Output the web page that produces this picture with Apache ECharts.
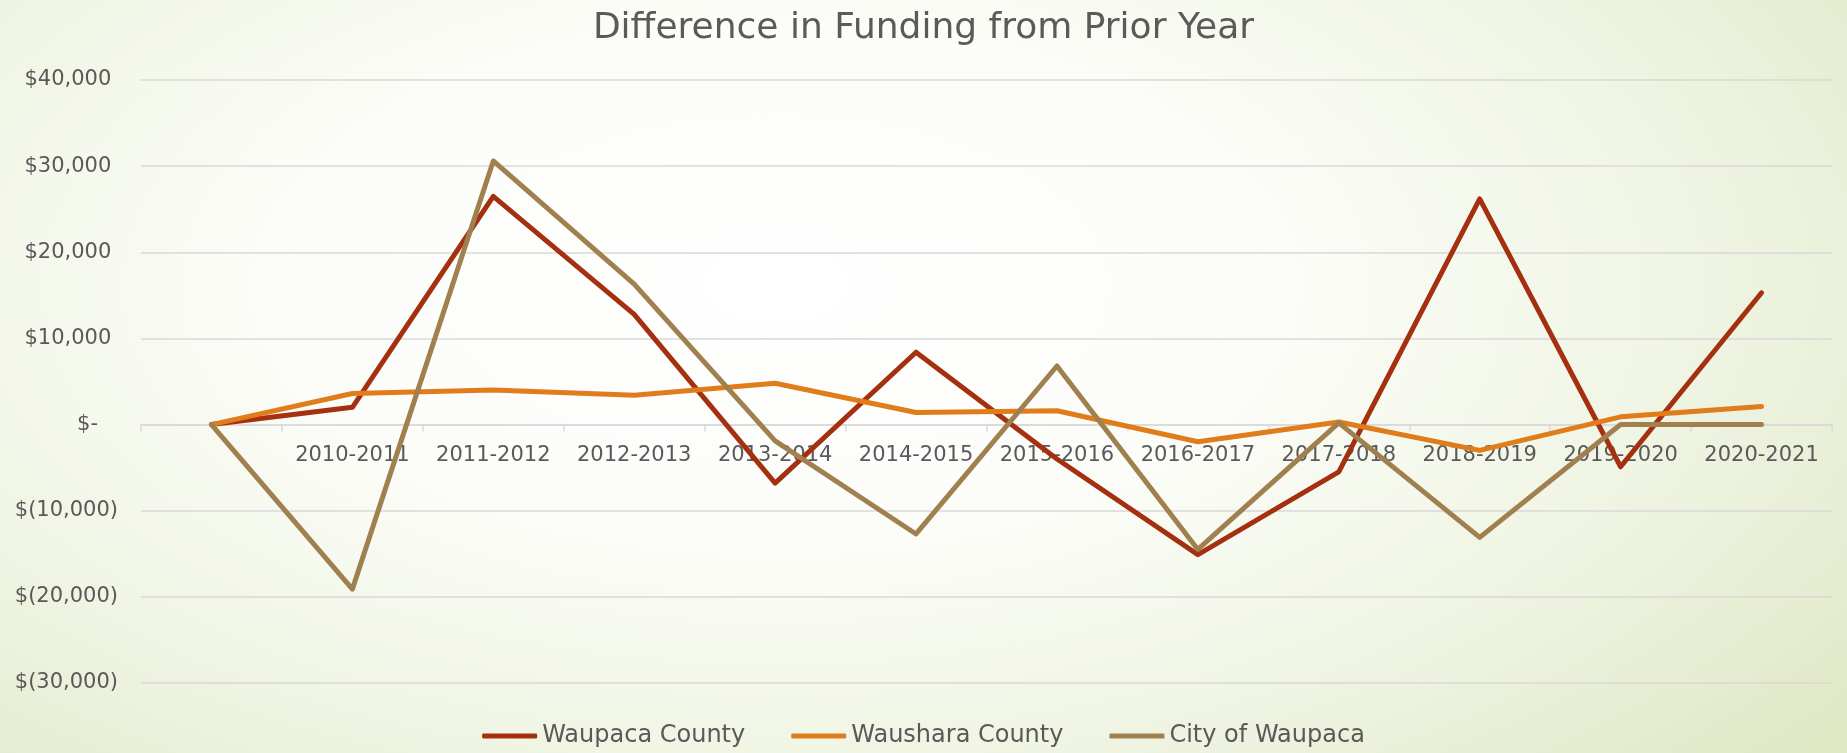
<!DOCTYPE html>
<html>
<head>
<meta charset="utf-8">
<script src="https://cdn.jsdelivr.net/npm/echarts@6/dist/echarts.min.js"></script>
<style>
html,body{margin:0;padding:0;width:1847px;height:753px;overflow:hidden;}
body{background:radial-gradient(ellipse 75% 95% at 42% 38%, #ffffff 0%, #fcfdf9 35%, #eff4e2 68%, #dfe7c4 100%);}
#chart{width:1847px;height:753px;}
</style>
</head>
<body>
<div id="chart"></div>
<script>
const categories = ['', '2010-2011', '2011-2012', '2012-2013', '2013-2014', '2014-2015', '2015-2016', '2016-2017', '2017-2018', '2018-2019', '2019-2020', '2020-2021'];
const waupacaCounty = [0, 2000, 26500, 12800, -6800, 8400, -4000, -15100, -5500, 26200, -4900, 15300];
const wausharaCounty = [0, 3600, 4000, 3400, 4800, 1400, 1600, -2000, 300, -3000, 900, 2100];
const cityOfWaupaca = [0, -19100, 30600, 16300, -1900, -12700, 6800, -14500, 200, -13100, 0, 0];
const seriesNames = ['Waupaca County', 'Waushara County', 'City of Waupaca'];
const seriesColors = ['#A5300F', '#E07C1A', '#A0804F'];
const titleText = 'Difference in Funding from Prior Year';
const yMin = -30000, yMax = 40000, yStep = 10000;

const FONT = '"DejaVu Sans", sans-serif';
function fmt(v) {
  if (v === 0) return '$-\u00a0\u00a0\u00a0';
  const s = Math.abs(v).toLocaleString('en-US');
  return v < 0 ? '$(' + s + ')' : '$' + s + '\u00a0';
}
const GRID_TOP = 80, GRID_BOTTOM = 70, H = 753;
const gridH = H - GRID_TOP - GRID_BOTTOM;
// move category axis up to the zero line
const zeroOffset = -gridH * (0 - yMin) / (yMax - yMin);

const chart = echarts.init(document.getElementById('chart'), null, {renderer: 'canvas'});
const dataSets = [waupacaCounty, wausharaCounty, cityOfWaupaca];
chart.setOption({
  backgroundColor: 'transparent',
  animation: false,
  title: {
    text: titleText,
    left: 'center',
    top: 6,
    textStyle: {fontFamily: FONT, fontSize: 36, fontWeight: 'normal', color: '#5a5a5a'}
  },
  legend: {
    bottom: 0,
    left: 'center',
    icon: 'roundRect',
    itemWidth: 55,
    itemHeight: 5,
    itemGap: 46,
    data: seriesNames,
    textStyle: {fontFamily: FONT, fontSize: 24, color: '#595959'}
  },
  grid: {left: 141, right: 15, top: GRID_TOP, bottom: GRID_BOTTOM, containLabel: false},
  xAxis: {
    type: 'category',
    data: categories,
    boundaryGap: true,
    position: 'bottom',
    offset: zeroOffset,
    axisLine: {onZero: false, lineStyle: {color: '#D9D9D9', width: 1.5}},
    axisTick: {show: true, length: 7, lineStyle: {color: '#D9D9D9', width: 1.5}},
    axisLabel: {fontFamily: FONT, fontSize: 21, color: '#595959', margin: 20, interval: 0}
  },
  yAxis: {
    type: 'value',
    min: yMin,
    max: yMax,
    interval: yStep,
    axisLine: {show: false},
    axisTick: {show: false},
    splitLine: {lineStyle: {color: '#D9D9D9', width: 1.5}},
    axisLabel: {fontFamily: FONT, fontSize: 21, color: '#595959', margin: 23, formatter: fmt}
  },
  series: seriesNames.map((n, i) => ({
    name: n,
    type: 'line',
    data: dataSets[i],
    showSymbol: false,
    symbol: 'none',
    color: seriesColors[i],
    lineStyle: {width: 5, color: seriesColors[i], cap: 'round', join: 'round'},
    z: 2 + i
  }))
});
</script>
</body>
</html>
